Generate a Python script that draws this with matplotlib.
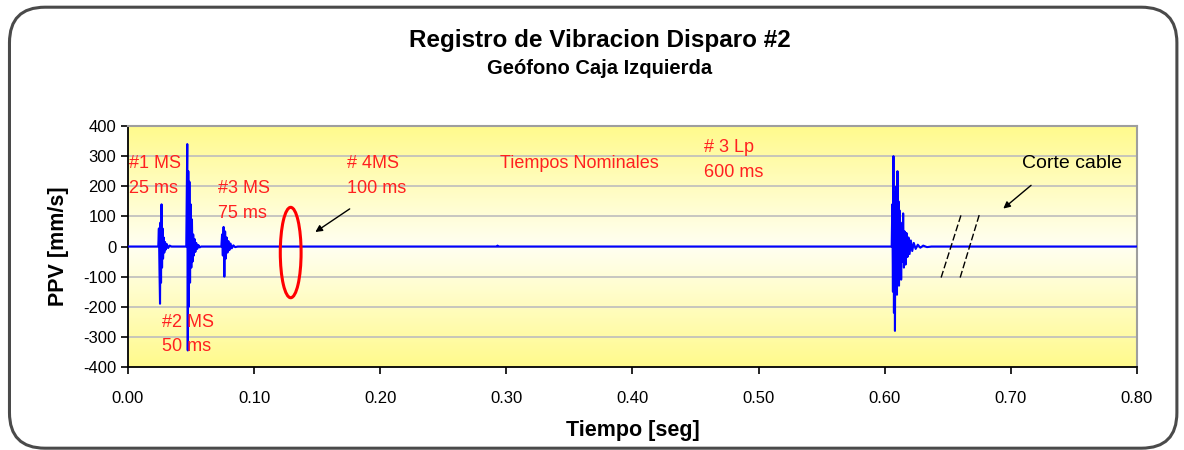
import numpy as np
import matplotlib.pyplot as plt
from matplotlib.colors import LinearSegmentedColormap
from matplotlib.patches import FancyBboxPatch, Ellipse

plt.rcParams['font.family'] = ['Liberation Sans', 'DejaVu Sans']
plt.rcParams['axes.unicode_minus'] = False

# registro del geofono: tiempo [s] y PPV [mm/s] por cada disparo
t_base_ini = [0.0, 0.0240]
v_base_ini = [0, 0]

t_ms1 = [0.0245, 0.0250, 0.0254, 0.0258, 0.0262, 0.0266, 0.0270, 0.0274, 0.0278,
         0.0283, 0.0288, 0.0294, 0.0300, 0.0308, 0.0318, 0.0330, 0.0345]
v_ms1 = [60, -90, -190, 80, -120, 140, -70, 60, -40, 30, -20, 15, -10, 8, -5, 3, 0]

t_ms2 = [0.0462, 0.0466, 0.0470, 0.0474, 0.0478, 0.0482, 0.0487, 0.0492, 0.0497,
         0.0502, 0.0507, 0.0512, 0.0517, 0.0522, 0.0528, 0.0534, 0.0541, 0.0549,
         0.0558, 0.0568, 0.0580]
v_ms2 = [0, 180, 340, -345, 250, -200, 215, -120, 140, -70, 90, -50, 40, -30, 25,
         -18, 12, -8, 5, -3, 0]

t_ms3 = [0.0740, 0.0746, 0.0752, 0.0758, 0.0764, 0.0770, 0.0776, 0.0782, 0.0789,
         0.0796, 0.0804, 0.0813, 0.0823, 0.0835, 0.0850, 0.0870]
v_ms3 = [0, 40, -30, 65, -100, 50, -40, 30, -20, 18, -12, 10, -6, 4, -2, 0]

t_blip = [0.2925, 0.2930, 0.2935]
v_blip = [0, 3, 0]

t_lp3 = [0.6055, 0.6060, 0.6065, 0.6069, 0.6073, 0.6077, 0.6081, 0.6085, 0.6089,
         0.6093, 0.6097, 0.6101, 0.6105, 0.6109, 0.6113, 0.6117, 0.6121, 0.6125,
         0.6130, 0.6135, 0.6140, 0.6146, 0.6152, 0.6158, 0.6165, 0.6172, 0.6180,
         0.6188, 0.6197, 0.6207, 0.6218, 0.6230, 0.6245, 0.6262, 0.6282, 0.6305,
         0.6335, 0.6370]
v_lp3 = [0, 140, -150, 300, -220, 180, -280, 150, -140, 200, -160, 250, -120, 150,
         -130, 120, -90, 80, -110, 60, -50, 110, -70, 50, -60, 45, -35, 30, -25, 20,
         -15, 12, -8, 6, -4, 3, -2, 0]

t_base_fin = [0.80]
v_base_fin = [0]

tiempo = np.array(t_base_ini + t_ms1 + t_ms2 + t_ms3 + t_blip + t_lp3 + t_base_fin)
ppv = np.array(v_base_ini + v_ms1 + v_ms2 + v_ms3 + v_blip + v_lp3 + v_base_fin)

x_ticks = [0.0, 0.1, 0.2, 0.3, 0.4, 0.5, 0.6, 0.7, 0.8]
y_ticks = [-400, -300, -200, -100, 0, 100, 200, 300, 400]

fig = plt.figure(figsize=(11.84, 4.5), dpi=100)
fig.patch.set_facecolor('white')

# marco redondeado del grafico
marco = FancyBboxPatch((0.008, 0.004), 0.986, 0.98, boxstyle='round,pad=0,rounding_size=0.03',
                       transform=fig.transFigure, facecolor='none', edgecolor='#4A4A4A',
                       linewidth=2.2, mutation_aspect=1184 / 450, zorder=10)
fig.patches.append(marco)

ax = fig.add_axes([0.1081, 0.1844, 0.8522, 0.5356])

# fondo amarillo degradado (amarillo arriba/abajo, casi blanco al centro)
cmap = LinearSegmentedColormap.from_list('fondo', ['#FFFFF2', '#FFFA8C'])
grad = np.abs(np.linspace(-1, 1, 256)).reshape(-1, 1)
ax.imshow(grad, extent=[0, 0.8, -400, 400], aspect='auto', cmap=cmap, zorder=0,
          origin='lower', vmin=0, vmax=1)

for y in y_ticks[1:-1]:
    ax.axhline(y, color='#BDBDBD', linewidth=1.2, zorder=1)

ax.plot(tiempo, ppv, color='#0000FF', linewidth=1.5, zorder=3)

ax.set_xlim(0, 0.8)
ax.set_ylim(-400, 400)
ax.set_xticks(x_ticks)
ax.set_xticklabels(['%.2f' % x for x in x_ticks])
ax.set_yticks(y_ticks)
ax.tick_params(axis='both', direction='out', length=5, width=1.2, labelsize=12, colors='black')
ax.tick_params(axis='x', pad=12)
for lado in ['top', 'right']:
    ax.spines[lado].set_color('#9E9E9E')
    ax.spines[lado].set_linewidth(1.5)
for lado in ['left', 'bottom']:
    ax.spines[lado].set_color('black')
    ax.spines[lado].set_linewidth(1.3)

ax.set_xlabel('Tiempo [seg]', fontsize=15.5, fontweight='bold', labelpad=10)
ax.set_ylabel('PPV [mm/s]', fontsize=15.5, fontweight='bold', labelpad=10)

fig.text(0.507, 0.91, 'Registro de Vibracion Disparo #2', ha='center', va='center',
         fontsize=17.5, fontweight='bold')
fig.text(0.506, 0.848, 'Geófono Caja Izquierda', ha='center', va='center',
         fontsize=14.5, fontweight='bold')

# anotaciones de tiempos nominales
rojo = '#FF2020'
fs = 13
ax.text(0.0005, 276, '#1 MS', color=rojo, fontsize=fs, va='center')
ax.text(0.0005, 193, '25 ms', color=rojo, fontsize=fs, va='center')
ax.text(0.027, -252, '#2 MS', color=rojo, fontsize=fs, va='center')
ax.text(0.027, -332, '50 ms', color=rojo, fontsize=fs, va='center')
ax.text(0.071, 193, '#3 MS', color=rojo, fontsize=fs, va='center')
ax.text(0.071, 110, '75 ms', color=rojo, fontsize=fs, va='center')
ax.text(0.174, 276, '# 4MS', color=rojo, fontsize=fs, va='center')
ax.text(0.174, 193, '100 ms', color=rojo, fontsize=fs, va='center')
ax.text(0.295, 276, 'Tiempos Nominales', color=rojo, fontsize=fs, va='center')
ax.text(0.457, 329, '# 3 Lp', color=rojo, fontsize=fs, va='center')
ax.text(0.457, 246, '600 ms', color=rojo, fontsize=fs, va='center')
ax.text(0.709, 276, 'Corte cable', color='black', fontsize=14, va='center')

ax.add_patch(Ellipse((0.129, -20), 0.0165, 300, fill=False, edgecolor='#FF0000',
                     linewidth=2.2, zorder=4))

flecha = dict(arrowstyle='-|>', color='black', linewidth=1.0, mutation_scale=10)
ax.annotate('', xy=(0.1467, 43), xytext=(0.1776, 130), arrowprops=flecha, zorder=5)
ax.annotate('', xy=(0.6923, 120), xytext=(0.7177, 209), arrowprops=flecha, zorder=5)

# marcas de corte del cable
ax.plot([0.6447, 0.6606], [-103, 106], color='black', linewidth=1.0, linestyle=(0, (5, 2)), zorder=4)
ax.plot([0.6598, 0.6750], [-103, 106], color='black', linewidth=1.0, linestyle=(0, (5, 2)), zorder=4)

fig.savefig('out.png', dpi=100)
